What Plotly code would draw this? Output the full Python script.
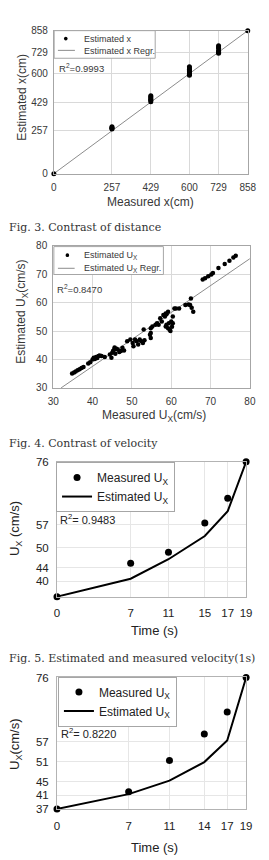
import plotly.graph_objects as go

# ---------------- data ----------------
# Fig.3 distance (cm)
dist_measured = [0,
                 257, 257, 257, 257,
                 429, 429, 429, 429, 429, 429,
                 600, 600, 600, 600, 600, 600, 600, 600,
                 729, 729, 729, 729, 729, 729, 729,
                 858]
dist_estimated = [0,
                  268, 272, 276, 281,
                  432, 440, 447, 454, 461, 468,
                  590, 597, 604, 611, 618, 626, 634, 641,
                  722, 727, 732, 737, 752, 760, 767,
                  858]
dist_regr_x = [0, 858]
dist_regr_y = [0, 858]
dist_ticks = [0, 257, 429, 600, 729, 858]

# Fig.4 velocity (cm/s)
vel_measured = [34.8, 35.3, 35.7, 36.2, 36.7, 37.2, 37.7, 38.9, 39.4,
                40.0, 40.3, 40.6, 40.9, 41.2, 41.5, 41.8, 42.3, 43.1,
                44.4, 44.8, 45.0, 45.2, 45.5, 45.6, 45.8, 46.1, 46.4, 46.8, 47.2, 47.6, 48.0,
                48.8, 49.6, 50.2, 50.4, 50.8, 51.2, 51.6, 52.0, 52.4, 52.8, 53.2, 53.0,
                54.6, 54.8, 54.8, 54.8, 55.2, 56.0, 56.4, 56.8, 57.2, 57.6, 58.0, 58.4, 58.6, 58.8, 59.2,
                58.6, 58.8, 59.2, 59.4, 59.6, 59.8, 60.0, 60.2, 60.4, 60.4, 60.8, 61.2, 62.0,
                63.6, 64.4, 64.8, 65.0, 65.2, 65.6,
                68.0, 68.6, 69.4, 70.2, 70.6, 72.0, 73.6, 74.8, 75.8, 76.4]
vel_estimated = [35.1, 35.4, 35.8, 36.2, 36.6, 37.0, 37.4, 38.6, 39.0,
                 40.0, 40.6, 40.2, 40.9, 40.5, 41.2, 41.4, 41.2, 40.9,
                 41.8, 40.6, 42.4, 43.0, 43.5, 44.2, 42.0, 43.8, 43.5, 42.6, 43.0, 44.1, 43.2,
                 46.4, 47.0, 45.8, 44.7, 47.0, 46.4, 45.3, 47.0, 46.4, 45.8, 46.8, 50.6,
                 48.7, 47.6, 51.0, 49.3, 51.6, 52.2, 52.8, 52.2, 54.5, 53.4, 55.7, 55.1, 56.2, 55.9, 56.8,
                 51.6, 52.2, 51.0, 52.8, 50.5, 50.0, 53.4, 51.5, 52.8, 55.1, 58.0, 58.0, 58.0,
                 59.2, 59.4, 59.2, 61.5, 58.2, 56.8,
                 68.2, 68.6, 69.3, 69.9, 70.5, 72.2, 73.6, 74.8, 75.9, 76.5]
vel_regr_x = [32, 80]
vel_regr_y = [30, 75.5]

# Fig.5 (0.5 s) time series
time_a = [0, 7.4, 11.2, 14.85, 17.15, 19]
time_a_labels = ["0", "7", "11", "15", "17", "19"]
meas_a = [35.3, 45.4, 48.7, 57.5, 65.0, 76.0]
est_a = [35.3, 40.7, 46.6, 53.6, 61.1, 76.0]
ux_a_ticks = [40, 44, 50, 57, 76]

# Fig.6 (1 s) time series
time_b = [0, 7.2, 11.3, 14.8, 17.1, 19]
time_b_labels = ["0", "7", "11", "14", "17", "19"]
meas_b = [37.0, 42.1, 51.4, 59.2, 65.8, 76.0]
est_b = [37.0, 41.4, 45.4, 50.9, 57.3, 76.0]
ux_b_ticks = [37, 41, 45, 51, 57, 76]

captions = ["Fig. 3. Contrast of distance",
            "Fig. 4. Contrast of velocity",
            "Fig. 5. Estimated and measured velocity(1s)"]

# ---------------- layout helpers ----------------
W, H = 269, 860
def fx(px):
    return px / W
def fy(py):
    return 1 - py / H

SANS = "Liberation Sans, Arial, sans-serif"
SERIF = "DejaVu Serif, serif"
TXT = "#383838"

fig = go.Figure()

# panel 1
fig.add_trace(go.Scatter(x=dist_regr_x, y=dist_regr_y, mode="lines",
                         line=dict(color="#8c8c8c", width=1), showlegend=False,
                         xaxis="x", yaxis="y"))
fig.add_trace(go.Scatter(x=dist_measured, y=dist_estimated, mode="markers",
                         marker=dict(color="black", size=5), showlegend=False,
                         cliponaxis=False, xaxis="x", yaxis="y"))
# panel 2
fig.add_trace(go.Scatter(x=vel_regr_x, y=vel_regr_y, mode="lines",
                         line=dict(color="#8c8c8c", width=1), showlegend=False,
                         xaxis="x2", yaxis="y2"))
fig.add_trace(go.Scatter(x=vel_measured, y=vel_estimated, mode="markers",
                         marker=dict(color="black", size=4.5), showlegend=False,
                         xaxis="x2", yaxis="y2"))
# panel 3
fig.add_trace(go.Scatter(x=time_a, y=meas_a, mode="markers", name="Measured U<sub>X</sub>",
                         marker=dict(color="black", size=7), cliponaxis=False,
                         legend="legend", xaxis="x3", yaxis="y3"))
fig.add_trace(go.Scatter(x=time_a, y=est_a, mode="lines", name="Estimated U<sub>X</sub>",
                         line=dict(color="black", width=2), cliponaxis=False,
                         legend="legend", xaxis="x3", yaxis="y3"))
# panel 4
fig.add_trace(go.Scatter(x=time_b, y=meas_b, mode="markers", name="Measured U<sub>X</sub>",
                         marker=dict(color="black", size=7), cliponaxis=False,
                         legend="legend2", xaxis="x4", yaxis="y4"))
fig.add_trace(go.Scatter(x=time_b, y=est_b, mode="lines", name="Estimated U<sub>X</sub>",
                         line=dict(color="black", width=2), cliponaxis=False,
                         legend="legend2", xaxis="x4", yaxis="y4"))

def ax12(domain, anchor, vals, rng, is_x):
    return dict(domain=domain, anchor=anchor, range=rng, tickvals=vals,
                showline=True, mirror=True, linecolor="#a6a6a6", linewidth=1,
                showgrid=True, gridcolor="#d9d9d9", gridwidth=1, zeroline=False,
                ticks="", tickfont=dict(family=SANS, size=10, color=TXT),
                ticklabelstandoff=4 if is_x else 3)

def ax34(domain, anchor, vals, rng, is_x, text=None):
    d = dict(domain=domain, anchor=anchor, range=rng, tickvals=vals,
             showline=True, mirror=True, linecolor="#b3b3b3", linewidth=1,
             showgrid=True, gridcolor="#e6e6e6", gridwidth=1, zeroline=False,
             ticks="", tickfont=dict(family=SANS, size=11.5, color="#222222"),
             ticklabelstandoff=6 if is_x else 5)
    if text is not None:
        d["ticktext"] = text
    return d

fig.update_layout(
    width=W, height=H, margin=dict(l=0, r=0, t=0, b=0),
    paper_bgcolor="white", plot_bgcolor="white",
    xaxis=ax12([fx(50.7), fx(256)], "y", dist_ticks, [0, 858], True),
    yaxis=ax12([fy(170), fy(25)], "x", dist_ticks, [0, 858], False),
    xaxis2=ax12([fx(50), fx(258.3)], "y2", [30, 40, 50, 60, 70, 80], [30, 80], True),
    yaxis2=ax12([fy(387.3), fy(243.3)], "x2", [30, 40, 50, 60, 70, 80], [30, 80], False),
    xaxis3=ax34([fx(54), fx(254.3)], "y3", time_a, [0, 19], True, time_a_labels),
    yaxis3=ax34([fy(599), fy(462.3)], "x3", ux_a_ticks, [35.3, 76], False),
    xaxis4=ax34([fx(54), fx(254.3)], "y4", time_b, [0, 19], True, time_b_labels),
    yaxis4=ax34([fy(814.3), fy(681)], "x4", ux_b_ticks, [37, 76], False),
    legend=dict(x=fx(53), y=fy(462.5), xanchor="left", yanchor="top",
                bordercolor="#a6a6a6", borderwidth=1, bgcolor="white",
                font=dict(family=SANS, size=12, color="#222222"), tracegroupgap=0),
    legend2=dict(x=fx(55), y=fy(680), xanchor="left", yanchor="top",
                 bordercolor="#a6a6a6", borderwidth=1, bgcolor="white",
                 font=dict(family=SANS, size=12, color="#222222"), tracegroupgap=0),
)

shapes = []
annots = []

def legend_box(x0, y0, x1, y1, dot_x, dot_y, line_x0, line_x1, line_y):
    shapes.append(dict(type="rect", xref="paper", yref="paper", x0=fx(x0), x1=fx(x1),
                       y0=fy(y1), y1=fy(y0), line=dict(color="#a6a6a6", width=1),
                       fillcolor="white", layer="above"))
    shapes.append(dict(type="circle", xref="paper", yref="paper",
                       x0=fx(dot_x - 1.9), x1=fx(dot_x + 1.9), y0=fy(dot_y + 1.9), y1=fy(dot_y - 1.9),
                       line=dict(color="black", width=0), fillcolor="black", layer="above"))
    shapes.append(dict(type="line", xref="paper", yref="paper", x0=fx(line_x0), x1=fx(line_x1),
                       y0=fy(line_y), y1=fy(line_y), line=dict(color="#8c8c8c", width=1),
                       layer="above"))

def text(t, px, py, size, xanchor="left", angle=0, family=SANS, color=TXT):
    annots.append(dict(text=t, x=fx(px), y=fy(py), xref="paper", yref="paper",
                       xanchor=xanchor, yanchor="middle", showarrow=False, textangle=angle,
                       font=dict(family=family, size=size, color=color)))

# panel 1 decorations
legend_box(51, 25, 158, 53, 63.3, 33, 55, 73, 45)
text("Estimated x", 80, 33.5, 9)
text("Estimated x Regr.", 80, 45.5, 9)
text("R<sup>2</sup>=0.9993", 53.5, 63, 9.5)
text("Measured x(cm)", 153, 199, 12, "center")
text("Estimated x(cm)", 17, 93, 12, "center", -90)

# panel 2 decorations
legend_box(50.7, 244, 166.7, 272.3, 65, 252.7, 55, 72.7, 266)
text("Estimated U<sub>X</sub>", 80, 252.7, 9)
text("Estimated U<sub>X</sub> Regr.", 80, 266, 9)
text("R<sup>2</sup>=0.8470", 52, 287.3, 9.5)
text("Measured U<sub>X</sub>(cm/s)", 157, 415.5, 12, "center")
text("Estimated U<sub>X</sub>(cm/s)", 17, 310, 12, "center", -90)

# panel 3 decorations
text("R<sup>2</sup>= 0.9483", 55, 520, 11, color="#222222")
text("Time (s)", 157, 633, 13, "center", color="#222222")
text("U<sub>X</sub> (cm/s)", 10, 530, 13, "center", -90, color="#222222")

# panel 4 decorations
text("R<sup>2</sup>= 0.8220", 56.5, 737, 11, color="#222222")
text("Time (s)", 157, 853, 13, "center", color="#222222")
text("U<sub>X</sub>(cm/s)", 10, 748, 13, "center", -90, color="#222222")

# captions
text(captions[0], 1.5, 225, 11, family=SERIF, color="#333333")
text(captions[1], 1.5, 443.5, 11, family=SERIF, color="#333333")
text(captions[2], 1.5, 662, 11, family=SERIF, color="#333333")

fig.update_layout(shapes=shapes, annotations=annots)
fig.write_html("out.html")
